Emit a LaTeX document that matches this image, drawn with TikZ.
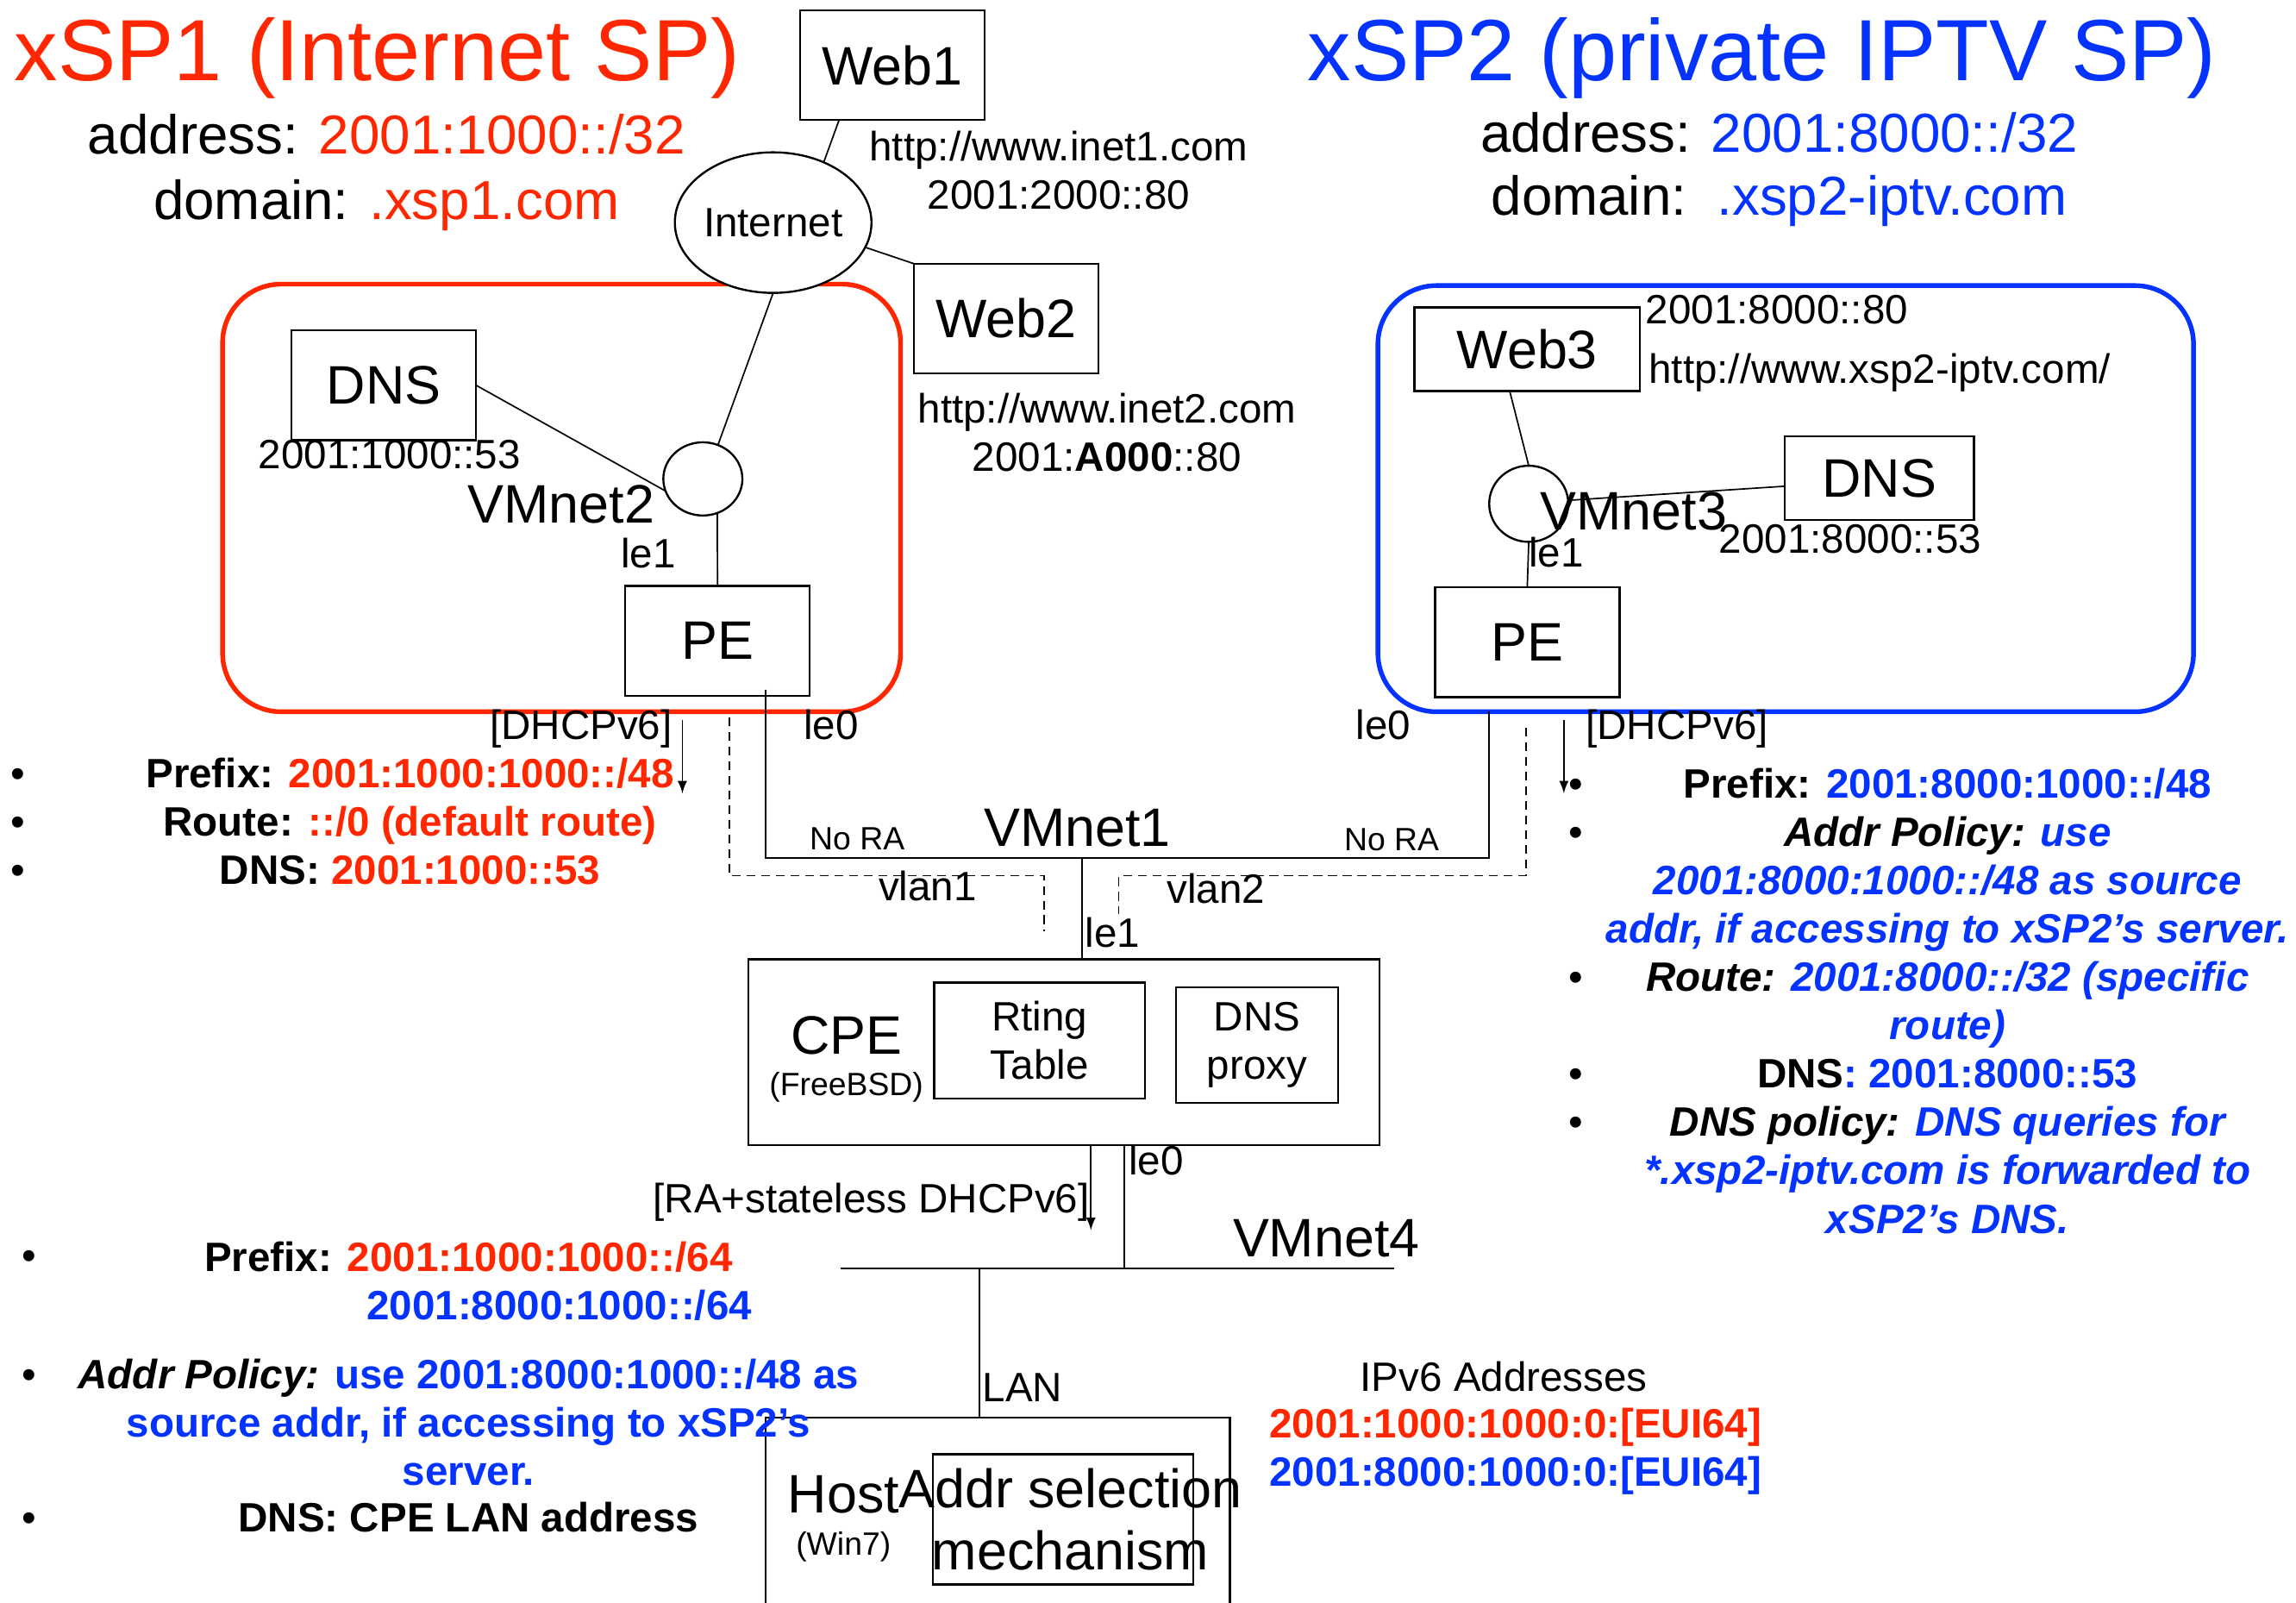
\documentclass[tikz,border=0pt]{standalone}
\usepackage{fontspec}
\setmainfont{Liberation Sans}
\usetikzlibrary{arrows,shapes.geometric}
\definecolor{spred}{RGB}{255,38,0}
\definecolor{spblue}{RGB}{4,51,255}

\begin{document}
\begin{tikzpicture} [x=0.5pt, y=-0.5pt, line width=0.5pt,
 every node/.style={inner sep=0pt, outer sep=0pt},
 lbl/.style={font=\fontsize{14}{16.5}\selectfont},
 small/.style={font=\fontsize{11}{13}\selectfont},
 big/.style={font=\fontsize{18.5}{21}\selectfont},
 hdr/.style={font=\fontsize{18.75}{22}\selectfont},
 ttl/.style={font=\fontsize{29.7}{34}\selectfont},
 pol/.style={font=\fontsize{14}{16.5}\selectfont\bfseries, align=center},
 box/.style={draw, big, line width=0.7pt, minimum width=63pt, minimum height=37.5pt},
 net/.style={draw, ellipse, fill=white, line width=0.7pt},
 vlan/.style={dash pattern=on 3pt off 2pt},
 dot/.style={font=\fontsize{14}{16.5}\selectfont, anchor=base},
 region/.style={line width=1.6pt, rounded corners=20pt},
]
    \useasboundingbox (0,0) rectangle (1568,1094);
    \clip (0,0) rectangle (1568,1094);

    \node[ttl, anchor=base west, text=spred] (t1) at (10,55) {xSP1 (Internet SP)};
    \node[hdr, anchor=base] (a1) at (264,105) {address: \textcolor{spred}{2001:1000::/32}};
    \node[hdr, anchor=base] (d1) at (264,150) {domain: \textcolor{spred}{.xsp1.com}};
    \draw[region, spred] (152,194) rectangle (615,486);

    \node[ttl, anchor=base west, text=spblue] (t2) at (893,55) {xSP2 (private IPTV SP)};
    \node[hdr, anchor=base] (a2) at (1215,104) {address: \textcolor{spblue}{2001:8000::/32}};
    \node[hdr, anchor=base] (d2) at (1215,147) {domain:\ \ \textcolor{spblue}{.xsp2-iptv.com}};
    \draw[region, spblue] (941,195) rectangle (1498,486);

    \node[box] (web1) at (609.5,44.5) {Web1};
    \node[net, lbl, minimum width=63.5pt, minimum height=48pt] (inet) at (528,152) {Internet};
    \node[box] (web2) at (687,217.5) {Web2};
    \node[lbl, align=center, anchor=base] (url1) at (723,143) {http://www.inet1.com\\2001:2000::80};
    \node[lbl, align=center, anchor=base] (url2) at (756,322) {http://www.inet2.com\\2001:\textbf{A000}::80};

    \node[box] (dns1) at (262,263) {DNS};
    \node[lbl, anchor=base] (dns1ip) at (266,320) {2001:1000::53};
    \node[net, minimum width=27pt, minimum height=25pt] (vm2) at (480,327) {};
    \node[big, anchor=base east] (vm2l) at (447,357) {VMnet2};
    \node[lbl, anchor=base west] (le1a) at (424,388) {le1};
    \node[box] (pe1) at (490,437.5) {PE};

    \node[box, minimum width=77pt, minimum height=28.5pt] (web3) at (1043,238.5) {Web3};
    \node[lbl, anchor=base west] (web3ip) at (1124,221) {2001:8000::80};
    \node[lbl, anchor=base west] (web3url) at (1126,262) {http://www.xsp2-iptv.com/};
    \node[net, minimum width=27pt, minimum height=26pt] (vm3) at (1044,344) {};
    \node[box, minimum width=64.5pt, minimum height=28.5pt] (dns2) at (1283.5,326.5) {DNS};
    \node[big, anchor=base west] (vm3l) at (1052,362) {VMnet3};
    \node[lbl, anchor=base west] (dns2ip) at (1174,378) {2001:8000::53};
    \node[lbl, anchor=base west] (le1b) at (1044,387) {le1};
    \node[box] (pe2) at (1043,438.5) {PE};

    \draw ([xshift=-18.25pt]web1.south) -- (inet.50);
    \draw (inet.-15) -- (web2.north west);
    \draw (inet.south) -- (vm2.66);
    \draw (dns1.east) -- (vm2.198);
    \draw (vm2.-67) -- (pe1.north);
    \draw ([xshift=-6pt]web3.south) -- (vm3.north);
    \draw ([yshift=-2.75pt]dns2.west) -- (vm3.5);
    \draw (vm3.south) -- (pe2.north);

    \node[lbl, anchor=base east] (dh1) at (459,505) {[DHCPv6]};
    \node[lbl, anchor=base west] (dh2) at (1083,505) {[DHCPv6]};
    \node[lbl, anchor=base west] (le0a) at (549,505) {le0};
    \node[lbl, anchor=base west] (le0b) at (926,505) {le0};
    \node[big, anchor=base west] (vm1l) at (672,578) {VMnet1};
    \node[small, anchor=base west] (nora1) at (553,580) {No RA};
    \node[small, anchor=base west] (nora2) at (918,581) {No RA};
    \node[lbl, anchor=base west] (vl1) at (600,615) {vlan1};
    \node[lbl, anchor=base west] (vl2) at (797,617) {vlan2};
    \node[lbl, anchor=base west] (le1c) at (741,647) {le1};

    \node[box, minimum width=215.5pt, minimum height=63.5pt] (cpe) at (726.5,718.5) {};
    \node[big, anchor=base] (cpel) at (578,720) {CPE};
    \node[small, anchor=base] (cpeos) at (578,748) {(FreeBSD)};
    \node[box, lbl, align=center, minimum width=72pt, minimum height=39.5pt] (rt) at (710,710.5) {Rting\\Table};
    \node[box, lbl, align=center, minimum width=55.5pt, minimum height=39.5pt] (proxy) at (858.5,713.5) {DNS\\proxy};

    \coordinate (vm1) at (739,586);
    \coordinate (v1a) at (498,490);
    \coordinate (v1b) at (713,636);
    \coordinate (v2a) at (1042,497);
    \coordinate (v2b) at (764,624);
    \draw ([xshift=16.5pt,yshift=2pt]pe1.south) |- (vm1) -| ([xshift=-13pt,yshift=-5pt]pe2.south);
    \draw (vm1) -- (vm1 |- cpe.north);
    \draw[vlan] (v1a) |- ([yshift=19pt]v1b) -- (v1b);
    \draw[vlan] (v2a) |- ([yshift=13pt]v2b) -- (v2b);
    \draw[-latex] ([xshift=3.5pt,yshift=3pt]dh1.east) -- ++(0pt,-25pt);
    \draw[-latex] ([xshift=-7.5pt,yshift=3pt]dh2.west) -- ++(0pt,-25pt);

    \coordinate (vm4a) at (574,866);
    \coordinate (vm4b) at (952,866);
    \draw (vm4a) -- (vm4b);
    \node[big, anchor=base west] (vm4l) at (842,858) {VMnet4};
    \node[lbl, anchor=base east] (ra) at (744,828) {[RA+stateless DHCPv6]};
    \node[lbl, anchor=base west] (le0c) at (771,802) {le0};
    \draw[-latex] ([xshift=9.25pt]cpe.south) -- ++(0pt,-29pt);
    \draw ([xshift=20.75pt]cpe.south) coordinate (cpele0) -- (cpele0 |- vm4a);

    \node[draw, line width=0.7pt, minimum width=158.5pt, minimum height=75pt, anchor=north] (host) at (681.5,968) {};
    \draw ([xshift=-6.25pt]host.north) coordinate (lanb) -- (lanb |- vm4a);
    \node[lbl, anchor=base west] (lan) at (671,957) {LAN};
    \node[big, anchor=base west] (hostl) at (538,1033) {Host};
    \node[small, anchor=base] (hostos) at (576,1062) {(Win7)};
    \node[box, align=center, minimum width=89pt, minimum height=44.5pt] (sel) at (726,1037.5) {\makebox[0pt]{\hspace{5pt}Addr selection}\\\makebox[0pt]{\hspace{5pt}mechanism}};

    \node[lbl, anchor=base] (v6h) at (1027,950) {IPv6 Addresses};
    \node[pol, anchor=base] (v6a) at (1035,1015) {\textcolor{spred}{2001:1000:1000:0:[EUI64]}\\\textcolor{spblue}{2001:8000:1000:0:[EUI64]}};

    \node[pol, anchor=base] (pol1) at (280,604) {Prefix: \textcolor{spred}{2001:1000:1000::/48}\\Route: \textcolor{spred}{::/0 (default route)}\\DNS: \textcolor{spred}{2001:1000::53}};
    \foreach \y [count=\i] in {538,571,604}
        \node[dot] (b1\i) at (12,\y) {•};

    \node[pol, anchor=base] (pol2) at (1330,842) {Prefix: \textcolor{spblue}{2001:8000:1000::/48}\\
        \textit{Addr Policy: \textcolor{spblue}{use}}\\
        \textcolor{spblue}{\textit{2001:8000:1000::/48 as source}}\\
        \textcolor{spblue}{\textit{addr, if accessing to xSP2’s server.}}\\
        \textit{Route: \textcolor{spblue}{2001:8000::/32 (specific}}\\
        \textcolor{spblue}{\textit{route)}}\\
        DNS\textcolor{spblue}{: 2001:8000::53}\\
        \textit{DNS policy: \textcolor{spblue}{DNS queries for}}\\
        \textcolor{spblue}{\textit{*.xsp2-iptv.com is forwarded to}}\\
        \textcolor{spblue}{\textit{xSP2’s DNS.}}};
    \foreach \y [count=\i] in {545,578,677,743,776}
        \node[dot] (b2\i) at (1076,\y) {•};

    \node[pol, anchor=base] (pol3) at (320,868) {Prefix: \textcolor{spred}{2001:1000:1000::/64}};
    \node[pol, anchor=base] (pol3b) at (382,901) {\textcolor{spblue}{2001:8000:1000::/64}};
    \node[pol, anchor=base] (pol4) at (320,1014) {\textit{Addr Policy:} \textcolor{spblue}{use 2001:8000:1000::/48 as}\\\textcolor{spblue}{source addr, if accessing to xSP2’s}\\\textcolor{spblue}{server.}};
    \node[pol, anchor=base] (pol5) at (320,1046) {DNS: CPE LAN address};
    \foreach \y [count=\i] in {867,948,1046}
        \node[dot] (b3\i) at (20,\y) {•};
\end{tikzpicture}
\end{document}
